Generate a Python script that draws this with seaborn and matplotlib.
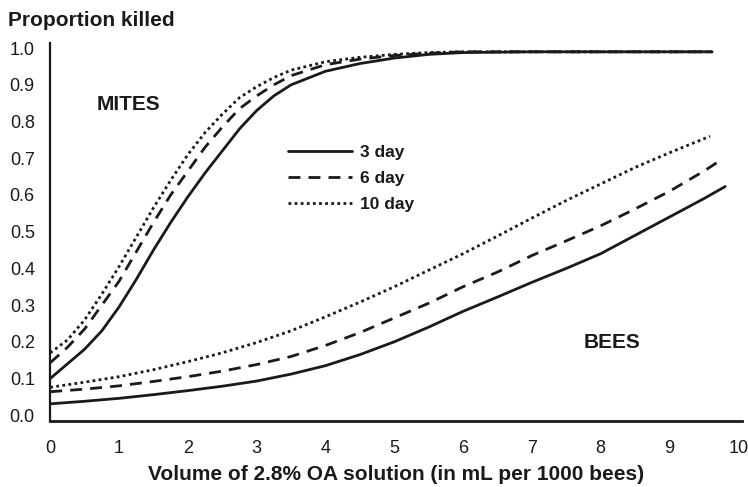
import numpy as np
import pandas as pd
import matplotlib
matplotlib.use("Agg")
import matplotlib.pyplot as plt
import seaborn as sns

sns.set_theme(style="white")
plt.rcParams['font.family'] = ['Liberation Sans', 'DejaVu Sans']

# --- datos ---
x_mites = [0, 0.25, 0.5, 0.75, 1, 1.25, 1.5, 1.75, 2, 2.25, 2.5, 2.75, 3, 3.25, 3.5,
           4, 4.5, 5, 5.5, 6, 7, 8, 9, 9.62]
mites_3d = [0.10, 0.14, 0.18, 0.23, 0.295, 0.37, 0.45, 0.525, 0.595, 0.66, 0.72, 0.78, 0.83, 0.87, 0.90,
            0.937, 0.958, 0.973, 0.983, 0.988, 0.99, 0.99, 0.99, 0.99]
mites_6d = [0.143, 0.185, 0.235, 0.30, 0.365, 0.445, 0.525, 0.60, 0.665, 0.73, 0.785, 0.835, 0.87, 0.90, 0.925,
            0.955, 0.97, 0.98, 0.986, 0.99, 0.99, 0.99, 0.99, 0.99]
mites_10d = [0.17, 0.205, 0.26, 0.33, 0.405, 0.485, 0.565, 0.64, 0.71, 0.77, 0.82, 0.865, 0.895, 0.92, 0.94,
             0.963, 0.975, 0.983, 0.988, 0.99, 0.99, 0.99, 0.99, 0.99]

x_bees = [0, 0.5, 1, 1.5, 2, 2.5, 3, 3.5, 4, 4.5, 5, 5.5, 6, 6.5, 7, 7.5, 8, 8.5, 9, 9.5]
x_fin_bees = [9.81, 9.73, 9.59]
bees_3d = [0.031, 0.038, 0.046, 0.056, 0.067, 0.079, 0.093, 0.112, 0.135, 0.165, 0.20, 0.24, 0.283, 0.322,
           0.362, 0.40, 0.44, 0.49, 0.54, 0.59, 0.623]
bees_6d = [0.064, 0.071, 0.08, 0.092, 0.105, 0.12, 0.138, 0.16, 0.19, 0.225, 0.265, 0.305, 0.35, 0.39,
           0.435, 0.475, 0.516, 0.562, 0.61, 0.665, 0.693]
bees_10d = [0.076, 0.09, 0.105, 0.124, 0.146, 0.17, 0.198, 0.23, 0.268, 0.308, 0.35, 0.395, 0.44, 0.488,
            0.537, 0.585, 0.63, 0.675, 0.715, 0.76]

labels = ['3 day', '6 day', '10 day']
estilos = ['-', (0, (4.3, 2.9)), (0, (1, 1.2))]
negro = '#1a1a1a'

fig = plt.figure(figsize=(7.48, 4.87), dpi=100)
ax = fig.add_axes([0.0672, 0.1361, 0.9244, 0.7756])

series_mites = [mites_3d, mites_6d, mites_10d]
# el 10 day de abejas termina antes de 9.5
xs_bees = [x_bees + [x_fin_bees[0]], x_bees + [x_fin_bees[1]], x_bees[:-1] + [x_fin_bees[2]]]
series_bees = [bees_3d, bees_6d, bees_10d]

for y, lab, ls in zip(series_mites, labels, estilos):
    sns.lineplot(x=x_mites, y=y, ax=ax, color=negro, linewidth=2, linestyle=ls, label=lab)
for xb, yb, ls in zip(xs_bees, series_bees, estilos):
    sns.lineplot(x=xb, y=yb, ax=ax, color=negro, linewidth=2, linestyle=ls)

ax.set_xlim(0, 10.05)
ax.set_ylim(-0.015, 1.014)
ax.set_xticks(range(0, 11))
ax.set_yticks(np.arange(0, 1.01, 0.1))
ax.set_yticklabels([f"{v:.1f}" for v in np.arange(0, 1.01, 0.1)])

sns.despine(ax=ax)
ax.spines['left'].set_linewidth(1.6)
ax.spines['bottom'].set_linewidth(2)
ax.spines['left'].set_color(negro)
ax.spines['bottom'].set_color(negro)
ax.tick_params(direction='out', length=3.6, width=1.2, colors=negro, labelsize=13)
ax.tick_params(axis='x', pad=10)
ax.tick_params(axis='y', pad=7.5)

ax.set_xlabel("Volume of 2.8% OA solution (in mL per 1000 bees)", fontsize=15, fontweight='bold',
              color=negro, labelpad=6)
ax.set_ylabel("")
fig.text(0.011, 0.958, "Proportion killed", fontsize=15, fontweight='bold', color=negro, va='center', ha='left')

ax.text(1.14, 0.847, "MITES", fontsize=15, fontweight='bold', color=negro, ha='center', va='center')
ax.text(8.16, 0.197, "BEES", fontsize=15, fontweight='bold', color=negro, ha='center', va='center')

leg = ax.legend(loc='upper left', bbox_to_anchor=(0.344, 0.730), frameon=False,
                handlelength=3.68, handletextpad=0.46, labelspacing=0.63,
                borderpad=0, borderaxespad=0, prop={'size': 12.5, 'weight': 'bold'})
for t in leg.get_texts():
    t.set_color(negro)

fig.savefig("out.png", dpi=100)
